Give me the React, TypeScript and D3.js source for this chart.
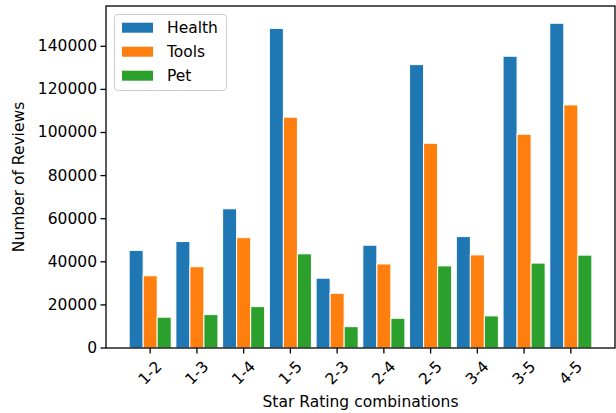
import React from "react";
import * as d3 from "d3";

const categories = ["1-2", "1-3", "1-4", "1-5", "2-3", "2-4", "2-5", "3-4", "3-5", "4-5"];
const health = [45300, 49400, 64600, 148300, 32400, 47700, 131500, 51700, 135400, 150700];
const tools = [33500, 37700, 51200, 107100, 25400, 39000, 95000, 43200, 99200, 112800];
const pet = [14300, 15500, 19200, 43700, 9900, 13800, 38100, 14900, 39400, 43100];
const seriesNames = ["Health", "Tools", "Pet"];
const seriesColors = ["#1f77b4", "#ff7f0e", "#2ca02c"];
const yTicks = [0, 20000, 40000, 60000, 80000, 100000, 120000, 140000];

const W = 616, H = 413;
const L = 106, R = 615, T = 6, B = 348;
const FONT = "'DejaVu Sans', sans-serif";
const FS = 15.5;

export default function App() {
  const x = d3.scaleLinear().domain([-0.945, 9.945]).range([L, R]);
  const y = d3.scaleLinear().domain([0, 158700]).range([B, T]);
  const barW = 0.3;
  const series = [health, tools, pet];
  return (
    <svg width={W} height={H} style={{ position: "absolute", left: 0, top: 0, background: "#fff" }} fontFamily={FONT}>
      <rect x={0} y={0} width={W} height={H} fill="#fff" />
      {series.map((vals, si) =>
        vals.map((v, i) => {
          const off = (si - 1) * barW;
          const x0 = x(i + off - barW / 2);
          const x1 = x(i + off + barW / 2);
          return (
            <rect
              key={si + "-" + i}
              x={x0}
              y={y(v)}
              width={x1 - x0}
              height={y(0) - y(v)}
              fill={seriesColors[si]}
              stroke="#fff"
              strokeWidth={1}
            />
          );
        })
      )}
      {/* frame */}
      <rect x={L} y={T} width={R - L} height={B - T} fill="none" stroke="#000" strokeWidth={1.3} />
      {/* y ticks */}
      {yTicks.map((t) => (
        <g key={t}>
          <line x1={L - 5.5} x2={L} y1={y(t)} y2={y(t)} stroke="#000" strokeWidth={1.3} />
          <text x={L - 9} y={y(t)} textAnchor="end" dominantBaseline="central" fontSize={FS} fill="#000">
            {t}
          </text>
        </g>
      ))}
      {/* x ticks */}
      {categories.map((c, i) => (
        <g key={c}>
          <line x1={x(i)} x2={x(i)} y1={B} y2={B + 5.5} stroke="#000" strokeWidth={1.3} />
          <text
            x={0}
            y={0}
            transform={`translate(${x(i)},${B + 25}) rotate(-45)`}
            textAnchor="middle"
            dominantBaseline="central"
            fontSize={FS}
            fill="#000"
          >
            {c}
          </text>
        </g>
      ))}
      <text x={(L + R) / 2} y={407} textAnchor="middle" fontSize={FS} fill="#000">
        Star Rating combinations
      </text>
      <text
        transform={`translate(19,${(T + B) / 2}) rotate(-90)`}
        textAnchor="middle"
        dominantBaseline="central"
        fontSize={FS}
        fill="#000"
      >
        Number of Reviews
      </text>
      {/* legend */}
      <rect x={114.5} y={14.5} width={112} height={76} rx={3} fill="#fff" fillOpacity={0.8} stroke="#ccc" strokeWidth={1} />
      {seriesNames.map((n, i) => (
        <g key={n}>
          <rect x={122} y={22.7 + i * 24} width={31} height={10} fill={seriesColors[i]} />
          <text x={167} y={27.7 + i * 24} dominantBaseline="central" fontSize={FS} fill="#000">
            {n}
          </text>
        </g>
      ))}
    </svg>
  );
}
